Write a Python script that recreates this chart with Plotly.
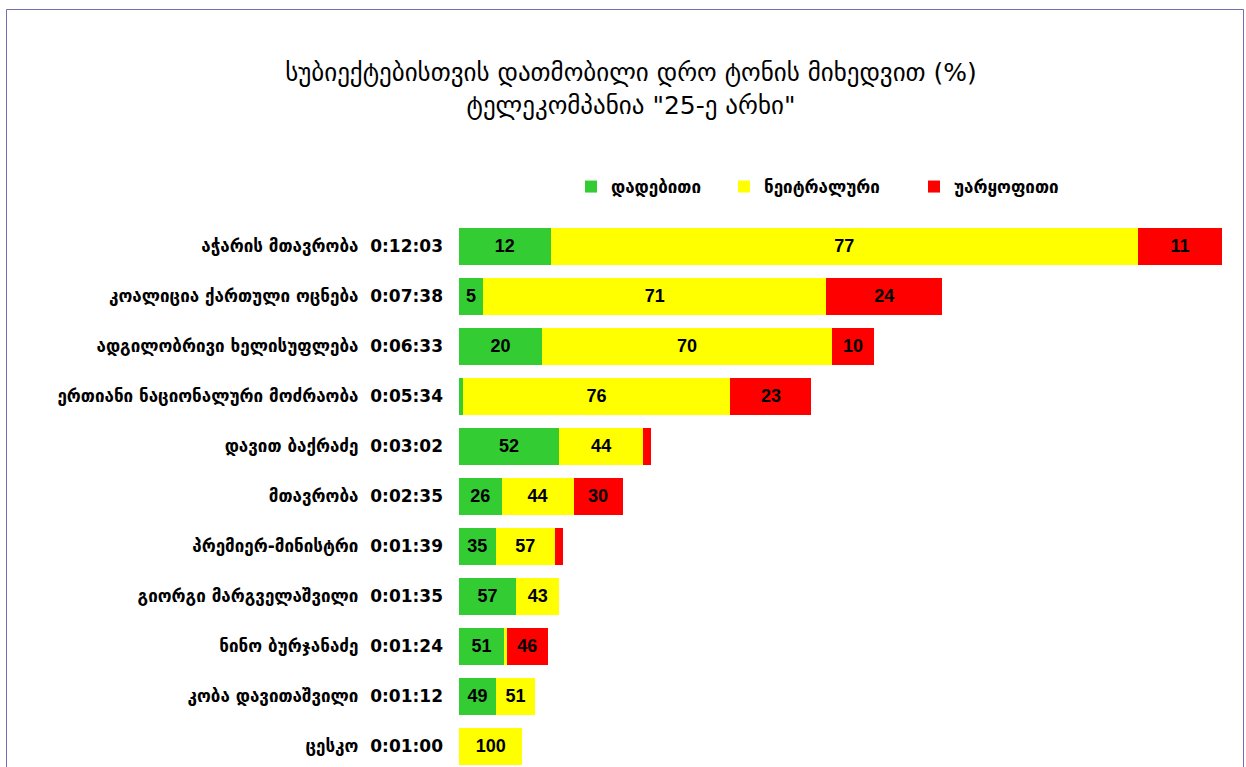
import plotly.graph_objects as go

# ---- data ----
subjects = ["აჭარის მთავრობა", "კოალიცია ქართული ოცნება", "ადგილობრივი ხელისუფლება",
            "ერთიანი ნაციონალური მოძრაობა", "დავით ბაქრაძე", "მთავრობა",
            "პრემიერ-მინისტრი", "გიორგი მარგველაშვილი", "ნინო ბურჯანაძე",
            "კობა დავითაშვილი", "ცესკო"]
times = ["0:12:03", "0:07:38", "0:06:33", "0:05:34", "0:03:02", "0:02:35",
         "0:01:39", "0:01:35", "0:01:24", "0:01:12", "0:01:00"]
positive = [12, 5, 20, 1, 52, 26, 35, 57, 51, 49, 0]
neutral = [77, 71, 70, 76, 44, 44, 57, 43, 3, 51, 100]
negative = [11, 24, 10, 23, 4, 30, 8, 0, 46, 0, 0]
series_names = ["დადებითი", "ნეიტრალური", "უარყოფითი"]
series_colors = ["#33cc33", "#ffff00", "#ff0000"]
title_lines = ["სუბიექტებისთვის დათმობილი დრო ტონის მიხედვით (%)",
               "ტელეკომპანია \"25-ე არხი\""]


def to_sec(t):
    h, m, s = (int(v) for v in t.split(":"))
    return h * 3600 + m * 60 + s


secs = [to_sec(t) for t in times]
labels = [f"{s}  {t}" for s, t in zip(subjects, times)]
ypos = list(range(len(subjects)))

W, H = 1246, 767
ML, MR, MT, MB = 459, 17, 221, 0
plot_w = W - ML - MR
plot_h = H - MT - MB
px_per_sec = 763 / 723.0
xmax = plot_w / px_per_sec


def px2x(p):
    return (p - ML) / plot_w


def py2y(p):
    return (H - MB - p) / plot_h


legend_ids = ["legend", "legend2", "legend3"]
legend_square_px = [585, 738, 928]

fig = go.Figure()
for name, col, vals, lid in zip(series_names, series_colors,
                                [positive, neutral, negative], legend_ids):
    seg = [s * v / 100.0 for s, v in zip(secs, vals)]
    fig.add_trace(go.Bar(
        y=ypos, x=seg,
        orientation="h", name=name, marker=dict(color=col, line=dict(width=0)),
        text=[str(v) if sg >= 12 else "" for v, sg in zip(vals, seg)],
        textposition="inside", insidetextanchor="middle", constraintext="none",
        textfont=dict(family="Liberation Sans, Arial", size=18, color="black", weight="bold"),
        textangle=0, hoverinfo="skip", legend=lid,
    ))

# frame
fig.add_shape(type="rect", xref="paper", yref="paper",
              x0=px2x(6.5), x1=px2x(1243.5), y0=py2y(820), y1=py2y(9.5),
              line=dict(color="#7070b0", width=1), fillcolor="rgba(0,0,0,0)")

legend_font = dict(family="DejaVu Sans", size=17, color="black", weight="bold")
legend_layout = {}
for lid, sq in zip(legend_ids, legend_square_px):
    legend_layout[lid] = dict(orientation="h", x=px2x(sq - 14), y=py2y(187),
                              xanchor="left", yanchor="middle", font=legend_font,
                              bgcolor="rgba(0,0,0,0)",
                              itemclick=False, itemdoubleclick=False)

fig.update_layout(
    width=W, height=H, barmode="stack", bargap=0.26,
    margin=dict(l=ML, r=MR, t=MT, b=MB),
    paper_bgcolor="white", plot_bgcolor="white",
    title=dict(text="<br>".join(title_lines), x=631 / W, xref="container", xanchor="center",
               y=1 - 81 / H, yanchor="top",
               font=dict(family="DejaVu Sans", size=25, color="black")),
    xaxis=dict(range=[0, xmax], visible=False, showgrid=False, zeroline=False),
    yaxis=dict(range=[10 + 21 / 50.0, -0.5], tickmode="array", tickvals=ypos, ticktext=labels,
               showgrid=False, zeroline=False, showline=False, ticks="",
               ticklabelstandoff=15,
               tickfont=dict(family="DejaVu Sans", size=17, color="black", weight="bold")),
    showlegend=True,
    **legend_layout,
)

fig.write_html("out.html", config={"displayModeBar": False},
               post_script="document.body.style.margin='0px';document.body.style.overflow='hidden';")
